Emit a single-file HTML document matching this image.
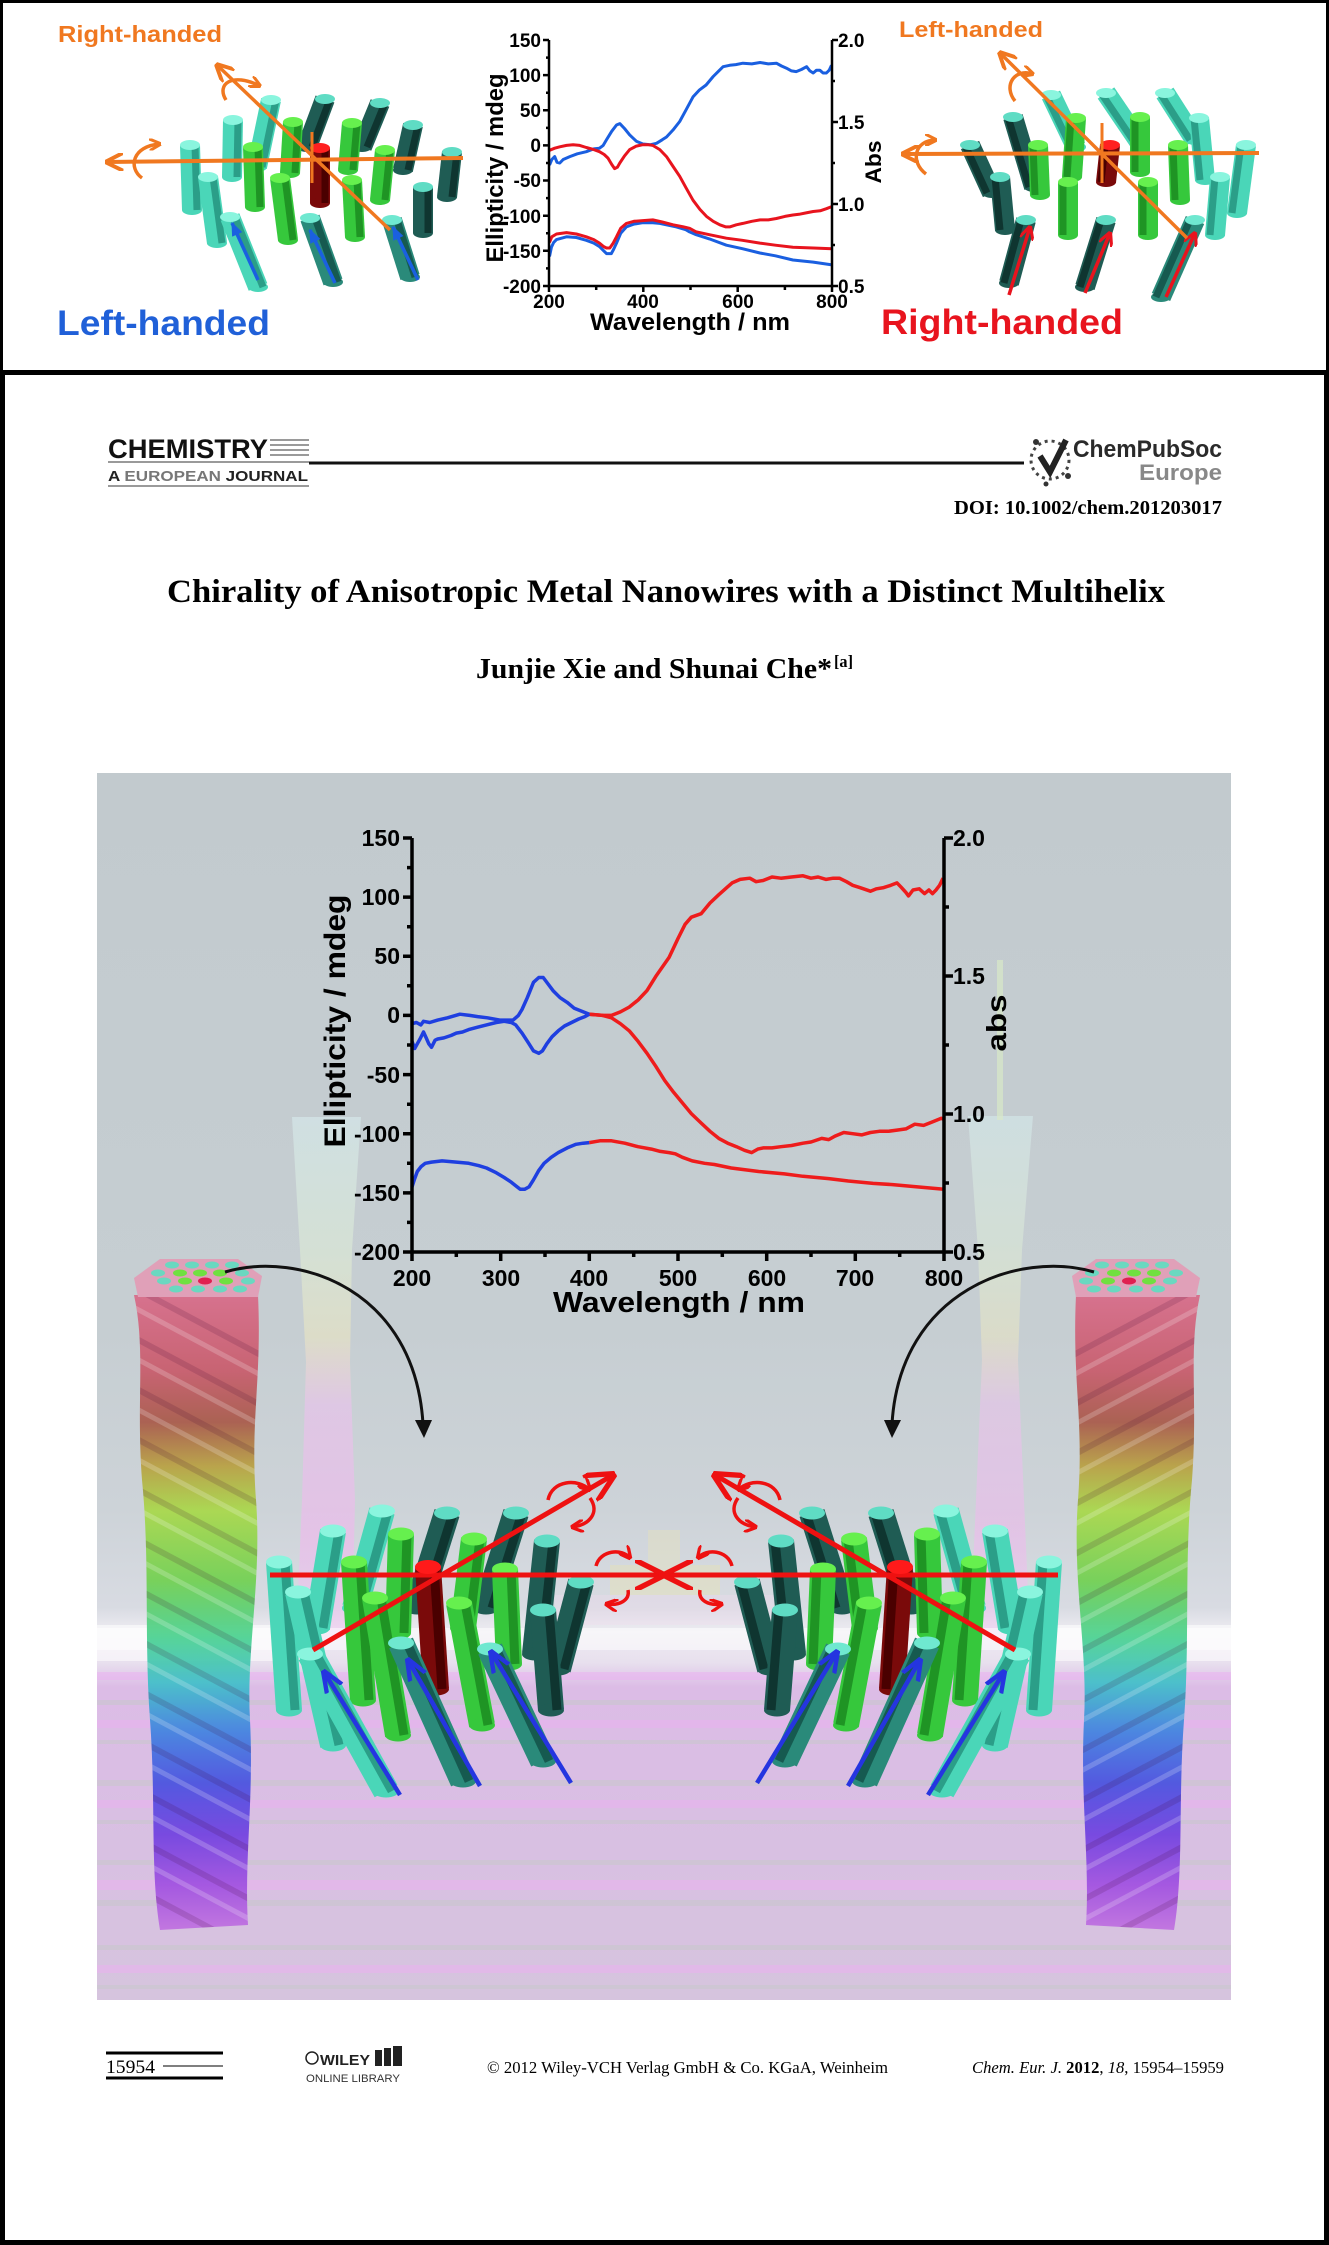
<!DOCTYPE html>
<html>
<head>
<meta charset="utf-8">
<style>
html,body{margin:0;padding:0;background:#fff}
svg{display:block}
.s{font-family:"Liberation Sans",Arial,sans-serif;font-weight:bold}
.r{font-family:"Liberation Serif","Times New Roman",serif}
.cy ellipse{stroke:none}
.cy line{stroke-linecap:butt}
.w20 line.bd{stroke-width:20}.w20 line.sh{stroke-width:7}
.w26 line.bd{stroke-width:26}.w26 line.sh{stroke-width:9}
.aq line.bd{stroke:#4ad6b8}.aq ellipse.bd{fill:#4ad6b8}.aq .sh{stroke:#2b9e88}.aq .tp{fill:#8af5de}
.gr line.bd{stroke:#36c83c}.gr ellipse.bd{fill:#36c83c}.gr .sh{stroke:#1f9424}.gr .tp{fill:#66f04e}
.dk line.bd{stroke:#1f5c54}.dk ellipse.bd{fill:#1f5c54}.dk .sh{stroke:#0f3530}.dk .tp{fill:#5fdcc4}
.rd line.bd{stroke:#7a0a0a}.rd ellipse.bd{fill:#7a0a0a}.rd .sh{stroke:#4a0000}.rd .tp{fill:#ff2020}
.md line.bd{stroke:#2a8a7a}.md ellipse.bd{fill:#2a8a7a}.md .sh{stroke:#165a50}.md .tp{fill:#6fe8d0}
</style>
</head>
<body>
<svg width="1329" height="2245" viewBox="0 0 1329 2245" xmlns="http://www.w3.org/2000/svg">
<defs>
<marker id="mo" viewBox="0 0 10 10" refX="9" refY="5" markerWidth="18" markerHeight="18" markerUnits="userSpaceOnUse" orient="auto"><path d="M0,0 L10,5 L0,10" fill="none" stroke="#f07820" stroke-width="2.2"/></marker>
<marker id="mos" viewBox="0 0 10 10" refX="9" refY="5" markerWidth="12" markerHeight="12" markerUnits="userSpaceOnUse" orient="auto"><path d="M0,0 L10,5 L0,10" fill="none" stroke="#f07820" stroke-width="2.5"/></marker>
<marker id="mr" viewBox="0 0 10 10" refX="9" refY="5" markerWidth="14" markerHeight="14" markerUnits="userSpaceOnUse" orient="auto"><path d="M0,0 L10,5 L0,10" fill="none" stroke="#e8141e" stroke-width="2.2"/></marker>
<marker id="mb" viewBox="0 0 10 10" refX="9" refY="5" markerWidth="14" markerHeight="14" markerUnits="userSpaceOnUse" orient="auto"><path d="M0,1 L10,5 L0,9 Z" fill="#1a60e0"/></marker>
<marker id="mR" viewBox="0 0 10 10" refX="9" refY="5" markerWidth="30" markerHeight="30" markerUnits="userSpaceOnUse" orient="auto"><path d="M0,0 L10,5 L0,10" fill="none" stroke="#ee1111" stroke-width="1.8"/></marker>
<marker id="mRs" viewBox="0 0 10 10" refX="9" refY="5" markerWidth="13" markerHeight="13" markerUnits="userSpaceOnUse" orient="auto"><path d="M0,0 L10,5 L0,10" fill="none" stroke="#ee1111" stroke-width="2.5"/></marker>
<marker id="mB" viewBox="0 0 10 10" refX="9" refY="5" markerWidth="22" markerHeight="22" markerUnits="userSpaceOnUse" orient="auto"><path d="M0,1 L10,5 L0,9" fill="none" stroke="#2535e0" stroke-width="2"/></marker>
<linearGradient id="bg" x1="0" y1="0" x2="0" y2="1">
<stop offset="0" stop-color="#c2cace"/>
<stop offset="0.45" stop-color="#c6ced2"/>
<stop offset="0.6" stop-color="#cdd3d8"/>
<stop offset="0.68" stop-color="#d8dbe2"/>
<stop offset="0.70" stop-color="#eeecf2"/>
<stop offset="0.725" stop-color="#e8e0ee"/>
<stop offset="0.745" stop-color="#dcbce6"/>
<stop offset="0.88" stop-color="#d8c0e2"/>
<stop offset="1" stop-color="#d6c4de"/>
</linearGradient>
<linearGradient id="nw" x1="0" y1="0" x2="0" y2="1">
<stop offset="0" stop-color="#d86a88"/>
<stop offset="0.12" stop-color="#c85a6a"/>
<stop offset="0.2" stop-color="#a85848"/>
<stop offset="0.27" stop-color="#b8a040"/>
<stop offset="0.34" stop-color="#a8d848"/>
<stop offset="0.45" stop-color="#70d050"/>
<stop offset="0.54" stop-color="#48d090"/>
<stop offset="0.61" stop-color="#40c0c8"/>
<stop offset="0.69" stop-color="#4080e0"/>
<stop offset="0.77" stop-color="#4850e0"/>
<stop offset="0.85" stop-color="#7040e0"/>
<stop offset="0.93" stop-color="#a050e0"/>
<stop offset="1" stop-color="#c070e0"/>
</linearGradient>
<linearGradient id="tw" x1="0" y1="0" x2="0" y2="1">
<stop offset="0" stop-color="#d8eef0"/>
<stop offset="0.25" stop-color="#e0f0d8"/>
<stop offset="0.42" stop-color="#eee8c0"/>
<stop offset="0.55" stop-color="#f0c0f0"/>
<stop offset="0.8" stop-color="#f4b4f0"/>
<stop offset="1" stop-color="#f0c8f0"/>
</linearGradient>
<clipPath id="cw"><path d="M134 1295 L258 1295 C262 1380 250 1420 256 1500 C262 1580 246 1650 250 1720 C254 1800 244 1860 248 1925 L160 1930 C150 1870 156 1800 150 1720 C144 1640 150 1560 142 1480 C136 1400 146 1350 134 1295 Z"/></clipPath>
</defs>

<!-- ============ TOP PANEL ============ -->
<rect x="1.5" y="1.5" width="1326" height="370" fill="#fff" stroke="#000" stroke-width="3"/>

<!-- Top-left illustration -->
<g class="w20">
<g class="cy dk"><line class="bd" x1="325" y1="99" x2="307" y2="147"/><ellipse class="bd" cx="307" cy="147" rx="10" ry="5"/><line class="sh" x1="330" y1="99" x2="312" y2="147"/><ellipse class="tp" cx="325" cy="99" rx="10" ry="5"/></g>
<g class="cy aq"><line class="bd" x1="271" y1="100" x2="257" y2="167"/><ellipse class="bd" cx="257" cy="167" rx="10" ry="5"/><line class="sh" x1="276" y1="100" x2="262" y2="167"/><ellipse class="tp" cx="271" cy="100" rx="10" ry="5"/></g>
<g class="cy dk"><line class="bd" x1="380" y1="103" x2="362" y2="147"/><ellipse class="bd" cx="362" cy="147" rx="10" ry="5"/><line class="sh" x1="385" y1="103" x2="367" y2="147"/><ellipse class="tp" cx="380" cy="103" rx="10" ry="5"/></g>
<g class="cy aq"><line class="bd" x1="233" y1="120" x2="232" y2="177"/><ellipse class="bd" cx="232" cy="177" rx="10" ry="5"/><line class="sh" x1="238" y1="120" x2="237" y2="177"/><ellipse class="tp" cx="233" cy="120" rx="10" ry="5"/></g>
<g class="cy gr"><line class="bd" x1="293" y1="122" x2="290" y2="173"/><ellipse class="bd" cx="290" cy="173" rx="10" ry="5"/><line class="sh" x1="298" y1="122" x2="295" y2="173"/><ellipse class="tp" cx="293" cy="122" rx="10" ry="5"/></g>
<g class="cy gr"><line class="bd" x1="352" y1="123" x2="348" y2="170"/><ellipse class="bd" cx="348" cy="170" rx="10" ry="5"/><line class="sh" x1="357" y1="123" x2="353" y2="170"/><ellipse class="tp" cx="352" cy="123" rx="10" ry="5"/></g>
<g class="cy dk"><line class="bd" x1="413" y1="125" x2="403" y2="170"/><ellipse class="bd" cx="403" cy="170" rx="10" ry="5"/><line class="sh" x1="418" y1="125" x2="408" y2="170"/><ellipse class="tp" cx="413" cy="125" rx="10" ry="5"/></g>
<g class="cy aq"><line class="bd" x1="190" y1="145" x2="192" y2="210"/><ellipse class="bd" cx="192" cy="210" rx="10" ry="5"/><line class="sh" x1="195" y1="145" x2="197" y2="210"/><ellipse class="tp" cx="190" cy="145" rx="10" ry="5"/></g>
<g class="cy gr"><line class="bd" x1="253" y1="147" x2="255" y2="207"/><ellipse class="bd" cx="255" cy="207" rx="10" ry="5"/><line class="sh" x1="258" y1="147" x2="260" y2="207"/><ellipse class="tp" cx="253" cy="147" rx="10" ry="5"/></g>
<g class="cy rd"><line class="bd" x1="320" y1="148" x2="320" y2="203"/><ellipse class="bd" cx="320" cy="203" rx="10" ry="5"/><line class="sh" x1="325" y1="148" x2="325" y2="203"/><ellipse class="tp" cx="320" cy="148" rx="10" ry="5"/></g>
<g class="cy gr"><line class="bd" x1="385" y1="150" x2="380" y2="200"/><ellipse class="bd" cx="380" cy="200" rx="10" ry="5"/><line class="sh" x1="390" y1="150" x2="385" y2="200"/><ellipse class="tp" cx="385" cy="150" rx="10" ry="5"/></g>
<g class="cy dk"><line class="bd" x1="452" y1="152" x2="447" y2="197"/><ellipse class="bd" cx="447" cy="197" rx="10" ry="5"/><line class="sh" x1="457" y1="152" x2="452" y2="197"/><ellipse class="tp" cx="452" cy="152" rx="10" ry="5"/></g>
<g class="cy aq"><line class="bd" x1="208" y1="177" x2="217" y2="243"/><ellipse class="bd" cx="217" cy="243" rx="10" ry="5"/><line class="sh" x1="213" y1="177" x2="222" y2="243"/><ellipse class="tp" cx="208" cy="177" rx="10" ry="5"/></g>
<g class="cy gr"><line class="bd" x1="280" y1="178" x2="288" y2="240"/><ellipse class="bd" cx="288" cy="240" rx="10" ry="5"/><line class="sh" x1="285" y1="178" x2="293" y2="240"/><ellipse class="tp" cx="280" cy="178" rx="10" ry="5"/></g>
<g class="cy gr"><line class="bd" x1="352" y1="180" x2="355" y2="237"/><ellipse class="bd" cx="355" cy="237" rx="10" ry="5"/><line class="sh" x1="357" y1="180" x2="360" y2="237"/><ellipse class="tp" cx="352" cy="180" rx="10" ry="5"/></g>
<g class="cy dk"><line class="bd" x1="423" y1="187" x2="423" y2="233"/><ellipse class="bd" cx="423" cy="233" rx="10" ry="5"/><line class="sh" x1="428" y1="187" x2="428" y2="233"/><ellipse class="tp" cx="423" cy="187" rx="10" ry="5"/></g>
<g class="cy aq"><line class="bd" x1="230" y1="217" x2="258" y2="287"/><ellipse class="bd" cx="258" cy="287" rx="10" ry="5"/><line class="sh" x1="235" y1="217" x2="263" y2="287"/><ellipse class="tp" cx="230" cy="217" rx="10" ry="5"/></g>
<g class="cy md"><line class="bd" x1="310" y1="218" x2="333" y2="282"/><ellipse class="bd" cx="333" cy="282" rx="10" ry="5"/><line class="sh" x1="315" y1="218" x2="338" y2="282"/><ellipse class="tp" cx="310" cy="218" rx="10" ry="5"/></g>
<g class="cy md"><line class="bd" x1="392" y1="220" x2="410" y2="277"/><ellipse class="bd" cx="410" cy="277" rx="10" ry="5"/><line class="sh" x1="397" y1="220" x2="415" y2="277"/><ellipse class="tp" cx="392" cy="220" rx="10" ry="5"/></g>
</g>
<g stroke="#1a60e0" stroke-width="3.5" marker-end="url(#mb)">
<line x1="258" y1="280" x2="232" y2="223"/>
<line x1="335" y1="283" x2="310" y2="230"/>
<line x1="418" y1="280" x2="393" y2="227"/>
</g>
<g stroke="#f07820" fill="none">
<line x1="463" y1="158" x2="107" y2="162" stroke-width="4" marker-end="url(#mo)"/>
<line x1="390" y1="230" x2="217" y2="65" stroke-width="3.5" marker-end="url(#mo)"/>
<line x1="312" y1="132" x2="312" y2="183" stroke-width="3"/>
<path d="M142 178 C128 168 132 146 160 144" stroke-width="3.5" marker-end="url(#mos)"/>
<path d="M226 100 C216 84 232 72 260 86" stroke-width="3.5" marker-end="url(#mos)"/>
</g>
<text class="s" x="58" y="42" font-size="23" fill="#f07820" textLength="164" lengthAdjust="spacingAndGlyphs">Right-handed</text>
<text class="s" x="57" y="335" font-size="35" fill="#2060d8" textLength="213" lengthAdjust="spacingAndGlyphs">Left-handed</text>

<!-- Top chart -->
<g fill="none" stroke-linejoin="round">
<path stroke="#1a5fe0" stroke-width="3" d="M549.5,256.5 L551.4,247.3 L553.7,242.4 L556.5,239.6 L566.5,236.8 L576.4,237.5 L586.3,240.3 L593.8,243.1 L599.5,246.6 L603.7,250.8 L606.5,253.6 L611.3,253.6 L613.6,249.4 L616.5,243.1 L620.7,233.3 L626.4,226.9 L633.9,224.1 L642.9,222.7 L652.8,222.7 L659.8,223.4 L676.4,226.9 L685.8,229.7 L689.6,231.9 L696.2,234.7 L709.4,238.9 L726.4,245.2 L742.4,248.7 L759.9,253 L775.4,255.8 L792.9,260 L813.2,262.1 L832,264.9"/>
<path stroke="#e8141e" stroke-width="3" d="M549.5,242.4 L551.8,236.8 L556.5,234 L566.5,232.6 L576.4,234 L586.3,236.8 L593.8,239.6 L599.5,243.1 L603.7,246.6 L606.5,248 L609.8,248 L613.2,243.1 L616.5,236.8 L620.7,228.3 L626.4,223.4 L633.9,221.3 L642.9,220.6 L652.8,219.9 L662.2,222 L673.1,224.8 L683.4,226.9 L689.6,228.3 L696.2,231.9 L709.4,234.7 L726.4,238.2 L742.4,240.3 L759.9,243.1 L775.4,245.2 L792.9,247.3 L813.2,248 L832,248.7"/>
<path stroke="#1a5fe0" stroke-width="3" d="M549.5,165.1 L551.8,159.5 L554.7,156.6 L557,162.3 L559.8,163 L563.2,159.5 L569.8,156.6 L577.3,153.8 L586.3,151.7 L593.8,148.9 L599.5,148.2 L603.2,145.4 L606.5,139.8 L611.7,131.3 L616.5,125 L619.8,123.6 L624.5,128.5 L629.7,134.9 L636.3,141.2 L642.9,144 L650.4,144.7 L656.5,143.3 L662.2,139.8 L666.5,137 L673.1,129.9 L679.7,121.5 L685.8,110.3 L693,96.9 L699.5,89.9 L706.1,85 L713.2,76.5 L718.8,70.9 L723.1,66.7 L729.7,65.3 L735.8,64.6 L742.9,63.2 L751.8,63.9 L760.1,62.5 L768.3,63.9 L776.4,63.2 L781.5,66 L786.3,68.1 L791.5,70.9 L796.2,71.6 L801.4,69.5 L806.6,66.7 L809.9,70.9 L813.2,73 L816.5,70.2 L819.8,70.2 L823.1,73 L826.4,73 L829.2,70.2 L831.5,65.3"/>
<path stroke="#e8141e" stroke-width="3" d="M549.5,150.3 L554.7,148.2 L559.8,146.8 L566.5,145.4 L573.1,144.7 L579.7,145.4 L586.3,147.5 L593.8,149.6 L599.5,151.7 L604.2,154.5 L608,158.1 L611.7,164.4 L614.6,168.6 L617.4,167.2 L619.8,163 L624.5,155.9 L629.7,149.6 L636.3,146.1 L642.9,144.7 L648.1,144.7 L652.8,145.4 L659.8,149.6 L666.5,156.6 L673.1,166.5 L679.7,176.3 L686.3,188.3 L693,200.2 L699.9,209.4 L706.5,216.4 L713.2,221.3 L719.8,224.8 L725.9,226.9 L729.7,226.9 L736.3,224.8 L742.9,223.4 L751.8,221.3 L760.1,219.9 L768.3,219.9 L776.4,218.5 L784.9,216.4 L792.9,215 L799,214.3 L806.1,212.9 L813.2,211.5 L820.2,210.8 L826.4,208.7 L832,206.5"/>
</g>
<g stroke="#000" fill="none" stroke-width="2.5">
<path d="M549,40 V286 H832 V40"/>
<path d="M543,40H549M543,75.1H549M543,110.3H549M543,145.4H549M543,180.5H549M543,215.7H549M543,250.8H549M543,286H549"/>
<path d="M546,57.6H549M546,92.7H549M546,127.9H549M546,163H549M546,198.1H549M546,233.3H549M546,268.4H549"/>
<path d="M549,286V292M643.3,286V292M737.7,286V292M832,286V292M596.2,286V290M690.5,286V290M784.9,286V290"/>
<path d="M832,40H838M832,122H838M832,204H838M832,286H838M832,81H835M832,163H835M832,245H835"/>
</g>
<g class="s" font-size="19" text-anchor="end">
<text x="541" y="47">150</text><text x="541" y="82">100</text><text x="541" y="117">50</text><text x="541" y="152">0</text>
<text x="541" y="187">-50</text><text x="541" y="223">-100</text><text x="541" y="258">-150</text><text x="541" y="293">-200</text>
</g>
<g class="s" font-size="19" text-anchor="middle">
<text x="549" y="308">200</text><text x="643" y="308">400</text><text x="738" y="308">600</text><text x="832" y="308">800</text>
</g>
<g class="s" font-size="19">
<text x="838" y="47">2.0</text><text x="838" y="129">1.5</text><text x="838" y="211">1.0</text><text x="838" y="293">0.5</text>
</g>
<text class="s" x="690" y="330" font-size="24" text-anchor="middle" textLength="200" lengthAdjust="spacingAndGlyphs">Wavelength / nm</text>
<text class="s" transform="translate(503,168) rotate(-90)" font-size="24" text-anchor="middle" textLength="189" lengthAdjust="spacingAndGlyphs">Ellipticity / mdeg</text>
<text class="s" transform="translate(881,162) rotate(-90)" font-size="22" text-anchor="middle" textLength="43" lengthAdjust="spacingAndGlyphs">Abs</text>

<!-- Top-right illustration -->
<g class="w20">
<g class="cy aq"><line class="bd" x1="1106" y1="93" x2="1140" y2="143"/><ellipse class="bd" cx="1140" cy="143" rx="10" ry="5"/><line class="sh" x1="1101" y1="93" x2="1135" y2="143"/><ellipse class="tp" cx="1106" cy="93" rx="10" ry="5"/></g>
<g class="cy aq"><line class="bd" x1="1165" y1="93" x2="1195" y2="140"/><ellipse class="bd" cx="1195" cy="140" rx="10" ry="5"/><line class="sh" x1="1160" y1="93" x2="1190" y2="140"/><ellipse class="tp" cx="1165" cy="93" rx="10" ry="5"/></g>
<g class="cy aq"><line class="bd" x1="1051" y1="95" x2="1076" y2="147"/><ellipse class="bd" cx="1076" cy="147" rx="10" ry="5"/><line class="sh" x1="1046" y1="95" x2="1071" y2="147"/><ellipse class="tp" cx="1051" cy="95" rx="10" ry="5"/></g>
<g class="cy dk"><line class="bd" x1="1013" y1="117" x2="1034" y2="187"/><ellipse class="bd" cx="1034" cy="187" rx="10" ry="5"/><line class="sh" x1="1008" y1="117" x2="1029" y2="187"/><ellipse class="tp" cx="1013" cy="117" rx="10" ry="5"/></g>
<g class="cy gr"><line class="bd" x1="1076" y1="118" x2="1072" y2="177"/><ellipse class="bd" cx="1072" cy="177" rx="10" ry="5"/><line class="sh" x1="1071" y1="118" x2="1067" y2="177"/><ellipse class="tp" cx="1076" cy="118" rx="10" ry="5"/></g>
<g class="cy gr"><line class="bd" x1="1140" y1="117" x2="1140" y2="172"/><ellipse class="bd" cx="1140" cy="172" rx="10" ry="5"/><line class="sh" x1="1135" y1="117" x2="1135" y2="172"/><ellipse class="tp" cx="1140" cy="117" rx="10" ry="5"/></g>
<g class="cy aq"><line class="bd" x1="1199" y1="118" x2="1205" y2="180"/><ellipse class="bd" cx="1205" cy="180" rx="10" ry="5"/><line class="sh" x1="1194" y1="118" x2="1200" y2="180"/><ellipse class="tp" cx="1199" cy="118" rx="10" ry="5"/></g>
<g class="cy dk"><line class="bd" x1="970" y1="145" x2="992" y2="193"/><ellipse class="bd" cx="992" cy="193" rx="10" ry="5"/><line class="sh" x1="965" y1="145" x2="987" y2="193"/><ellipse class="tp" cx="970" cy="145" rx="10" ry="5"/></g>
<g class="cy gr"><line class="bd" x1="1038" y1="145" x2="1040" y2="195"/><ellipse class="bd" cx="1040" cy="195" rx="10" ry="5"/><line class="sh" x1="1033" y1="145" x2="1035" y2="195"/><ellipse class="tp" cx="1038" cy="145" rx="10" ry="5"/></g>
<g class="cy rd"><line class="bd" x1="1110" y1="145" x2="1106" y2="182"/><ellipse class="bd" cx="1106" cy="182" rx="10" ry="5"/><line class="sh" x1="1105" y1="145" x2="1101" y2="182"/><ellipse class="tp" cx="1110" cy="145" rx="10" ry="5"/></g>
<g class="cy gr"><line class="bd" x1="1178" y1="145" x2="1180" y2="200"/><ellipse class="bd" cx="1180" cy="200" rx="10" ry="5"/><line class="sh" x1="1173" y1="145" x2="1175" y2="200"/><ellipse class="tp" cx="1178" cy="145" rx="10" ry="5"/></g>
<g class="cy aq"><line class="bd" x1="1246" y1="145" x2="1237" y2="213"/><ellipse class="bd" cx="1237" cy="213" rx="10" ry="5"/><line class="sh" x1="1241" y1="145" x2="1232" y2="213"/><ellipse class="tp" cx="1246" cy="145" rx="10" ry="5"/></g>
<g class="cy dk"><line class="bd" x1="1000" y1="177" x2="1005" y2="230"/><ellipse class="bd" cx="1005" cy="230" rx="10" ry="5"/><line class="sh" x1="995" y1="177" x2="1000" y2="230"/><ellipse class="tp" cx="1000" cy="177" rx="10" ry="5"/></g>
<g class="cy aq"><line class="bd" x1="1220" y1="177" x2="1215" y2="235"/><ellipse class="bd" cx="1215" cy="235" rx="10" ry="5"/><line class="sh" x1="1215" y1="177" x2="1210" y2="235"/><ellipse class="tp" cx="1220" cy="177" rx="10" ry="5"/></g>
<g class="cy gr"><line class="bd" x1="1068" y1="182" x2="1068" y2="235"/><ellipse class="bd" cx="1068" cy="235" rx="10" ry="5"/><line class="sh" x1="1063" y1="182" x2="1063" y2="235"/><ellipse class="tp" cx="1068" cy="182" rx="10" ry="5"/></g>
<g class="cy gr"><line class="bd" x1="1148" y1="182" x2="1148" y2="235"/><ellipse class="bd" cx="1148" cy="235" rx="10" ry="5"/><line class="sh" x1="1143" y1="182" x2="1143" y2="235"/><ellipse class="tp" cx="1148" cy="182" rx="10" ry="5"/></g>
<g class="cy dk"><line class="bd" x1="1026" y1="220" x2="1009" y2="283"/><ellipse class="bd" cx="1009" cy="283" rx="10" ry="5"/><line class="sh" x1="1021" y1="220" x2="1004" y2="283"/><ellipse class="tp" cx="1026" cy="220" rx="10" ry="5"/></g>
<g class="cy dk"><line class="bd" x1="1106" y1="220" x2="1085" y2="287"/><ellipse class="bd" cx="1085" cy="287" rx="10" ry="5"/><line class="sh" x1="1101" y1="220" x2="1080" y2="287"/><ellipse class="tp" cx="1106" cy="220" rx="10" ry="5"/></g>
<g class="cy md"><line class="bd" x1="1195" y1="220" x2="1161" y2="297"/><ellipse class="bd" cx="1161" cy="297" rx="10" ry="5"/><line class="sh" x1="1190" y1="220" x2="1156" y2="297"/><ellipse class="tp" cx="1195" cy="220" rx="10" ry="5"/></g>
</g>
<g stroke="#e8141e" stroke-width="3.5" marker-end="url(#mr)">
<line x1="1009" y1="295" x2="1030" y2="227"/>
<line x1="1085" y1="293" x2="1110" y2="233"/>
<line x1="1166" y1="297" x2="1195" y2="233"/>
</g>
<g stroke="#f07820" fill="none">
<line x1="1259" y1="153" x2="903" y2="154" stroke-width="4" marker-end="url(#mo)"/>
<line x1="1187" y1="238" x2="1000" y2="53" stroke-width="3.5" marker-end="url(#mo)"/>
<line x1="1102" y1="123" x2="1102" y2="183" stroke-width="3"/>
<path d="M926 174 C910 162 914 140 936 140" stroke-width="3.5" marker-end="url(#mos)"/>
<path d="M1015 101 C1003 86 1014 68 1033 74" stroke-width="3.5" marker-end="url(#mos)"/>
</g>
<text class="s" x="899" y="37" font-size="22" fill="#f07820" textLength="144" lengthAdjust="spacingAndGlyphs">Left-handed</text>
<text class="s" x="881" y="334" font-size="35" fill="#e8141e" textLength="242" lengthAdjust="spacingAndGlyphs">Right-handed</text>

<!-- ============ LOWER PAGE ============ -->
<rect x="2.5" y="372.5" width="1324" height="1870" fill="#fff" stroke="#000" stroke-width="5"/>

<!-- Header -->
<text class="s" x="108" y="458" font-size="27" fill="#111" textLength="160" lengthAdjust="spacingAndGlyphs">CHEMISTRY</text>
<g stroke="#9a9a9a" stroke-width="2">
<line x1="270" y1="440" x2="309" y2="440"/><line x1="270" y1="445" x2="309" y2="445"/><line x1="270" y1="450" x2="309" y2="450"/><line x1="270" y1="455" x2="309" y2="455"/>
<line x1="108" y1="462" x2="309" y2="462"/><line x1="108" y1="486" x2="309" y2="486"/>
</g>
<text class="s" x="108" y="481" font-size="15" fill="#222" textLength="200" lengthAdjust="spacingAndGlyphs">A <tspan fill="#777">EUROPEAN</tspan> JOURNAL</text>
<line x1="309" y1="463" x2="1024" y2="463" stroke="#111" stroke-width="3"/>
<g>
<circle cx="1050" cy="460" r="19" fill="none" stroke="#444" stroke-width="3" stroke-dasharray="3 4"/>
<path d="M1040 456 L1050 472 L1066 440" fill="none" stroke="#222" stroke-width="6"/>
<circle cx="1036" cy="442" r="3" fill="#333"/><circle cx="1068" cy="476" r="3" fill="#333"/><circle cx="1046" cy="484" r="2.5" fill="#333"/>
</g>
<text class="s" x="1073" y="457" font-size="24" fill="#2a2a2a" textLength="149" lengthAdjust="spacingAndGlyphs">ChemPubSoc</text>
<text class="s" x="1139" y="480" font-size="22" fill="#888" textLength="83" lengthAdjust="spacingAndGlyphs">Europe</text>
<text class="r" x="954" y="514" font-size="20" font-weight="bold" textLength="268" lengthAdjust="spacingAndGlyphs">DOI: 10.1002/chem.201203017</text>
<text class="r" x="167" y="602" font-size="33" font-weight="bold" textLength="998" lengthAdjust="spacingAndGlyphs">Chirality of Anisotropic Metal Nanowires with a Distinct Multihelix</text>
<text class="r" x="476" y="678" font-size="28" font-weight="bold" textLength="356" lengthAdjust="spacingAndGlyphs">Junjie Xie and Shunai Che*</text>
<text class="r" x="834" y="667" font-size="17" font-weight="bold" textLength="19" lengthAdjust="spacingAndGlyphs">[a]</text>

<!-- ============ BIG FIGURE ============ -->
<rect x="97" y="773" width="1134" height="1227" fill="url(#bg)"/>
<!-- towers & city -->
<path d="M292 1117 L361 1117 L352 1250 L350 1362 L355 1500 L352 1640 L296 1640 L302 1500 L306 1362 L300 1250 Z" fill="url(#tw)" opacity="0.55"/>
<path d="M968 1116 L1033 1116 L1022 1250 L1018 1360 L1030 1640 L970 1640 L982 1360 L978 1250 Z" fill="url(#tw)" opacity="0.5"/>
<rect x="997" y="960" width="6" height="160" fill="#d8e8c8" opacity="0.7"/>
<g opacity="0.3">
<rect x="610" y="1565" width="110" height="55" fill="#f0e8a0"/>
<rect x="648" y="1530" width="32" height="40" fill="#f0e8b0"/>
<rect x="555" y="1595" width="220" height="30" fill="#f4dcf0"/>
</g>
<rect x="97" y="1628" width="1134" height="22" fill="#ffffff" opacity="0.5"/>
<rect x="97" y="1625" width="200" height="36" fill="#ffffff" opacity="0.55"/>
<rect x="1030" y="1625" width="201" height="36" fill="#ffffff" opacity="0.55"/>
<g fill="#c8c8cc" opacity="0.55">
<rect x="97" y="1700" width="1134" height="5"/>
<rect x="97" y="1740" width="1134" height="4"/>
<rect x="97" y="1780" width="1134" height="6"/>
<rect x="97" y="1820" width="1134" height="4"/>
<rect x="97" y="1860" width="1134" height="5"/>
<rect x="97" y="1900" width="1134" height="6"/>
<rect x="97" y="1945" width="1134" height="5"/>
<rect x="97" y="1985" width="1134" height="4"/>
</g>
<g fill="#ecb0f2" opacity="0.5">
<rect x="97" y="1672" width="1134" height="8"/>
<rect x="97" y="1720" width="1134" height="8"/>
<rect x="97" y="1800" width="1134" height="8"/>
<rect x="97" y="1880" width="1134" height="10"/>
<rect x="97" y="1965" width="1134" height="8"/>
</g>

<!-- Main chart -->
<g fill="none" stroke-linejoin="round" stroke-width="3.5">
<path stroke="#1f3fe0" d="M412,1186.9 L414.7,1178.6 L417.3,1171.5 L420.9,1166.8 L425.3,1163.3 L431.5,1162.1 L442.1,1160.9 L456.3,1162.1 L468.7,1163.3 L478.5,1165.6 L486.5,1168 L496.2,1172.7 L504.2,1177.5 L511.3,1182.2 L515.7,1185.7 L520.2,1189.3 L524.6,1189.3 L529,1186.9 L533.5,1179.8 L538.8,1170.4 L544.1,1163.3 L551.2,1157.3 L558.3,1152.6 L567.2,1147.9 L576,1144.3 L583.1,1143.2 L589.3,1142.6"/>
<path stroke="#ee1c1c" d="M589.3,1142.6 L600,1140.8 L611.5,1140.8 L624.8,1143.2 L638.1,1146.7 L651.4,1149.1 L660.3,1151.4 L669.1,1152.6 L675.3,1153.8 L682.4,1157.3 L692.2,1160.9 L704.6,1163.3 L714.4,1164.5 L731.2,1168 L758.7,1171.5 L784.4,1173.9 L803,1176.3 L828.7,1178.6 L848.3,1181 L873.1,1183.4 L892.6,1184.6 L917.4,1186.9 L944,1189.3"/>
<path stroke="#ee1c1c" d="M589.3,1014.2 L602.6,1015.4 L611.5,1015.4 L620.4,1011.9 L629.2,1007.1 L638.1,1000 L647,990.6 L655.8,976.4 L669.1,957.4 L678,938.5 L685.1,924.3 L691.3,917.2 L701.1,913.7 L710,903 L718.8,894.7 L726.8,887.6 L732.1,882.9 L740.1,879.4 L749.8,878.2 L756.1,881.7 L763.1,880.5 L772,877 L780.9,878.2 L791.5,877 L803,875.8 L811,878.2 L818.1,877 L826.1,879.4 L833.2,878.2 L839.4,878.2 L846.5,881.7 L852.7,885.3 L859.8,887.6 L870.4,891.2 L876.6,888.8 L883.7,887.6 L890.8,885.3 L897,882.9 L901.5,887.6 L905.9,892.4 L908.5,895.9 L913,890 L919.2,888.8 L924.5,893.6 L928.9,890 L932.5,893.6 L936,890 L939.6,885.3 L943.1,878.2"/>
<path stroke="#ee1c1c" d="M589.3,1014.2 L602.6,1015.4 L611.5,1017.8 L620.4,1023.7 L629.2,1030.8 L638.1,1041.4 L647,1053.3 L655.8,1066.3 L664.7,1080.5 L673.6,1092.3 L682.4,1102.9 L691.3,1113.6 L701.1,1123 L710,1131.3 L718.8,1138.4 L727.7,1143.2 L736.5,1146.7 L744.5,1150.3 L751.6,1152.6 L757.8,1149.1 L763.1,1147.9 L772,1147.9 L780.9,1146.7 L791.5,1145.5 L803,1143.2 L811,1142 L821.7,1138.4 L828.7,1139.6 L835,1136.1 L843.8,1132.5 L852.7,1133.7 L861.6,1134.9 L870.4,1132.5 L879.3,1131.3 L888.2,1131.3 L897,1130.1 L905.9,1128.9 L914.8,1124.2 L923.6,1125.4 L932.5,1121.9 L941.4,1118.3 L944,1119.5"/>
<path stroke="#1f3fe0" d="M412,1023.7 L416.4,1022.5 L420.9,1024.9 L423.5,1021.3 L429.7,1022.5 L437.7,1020.1 L447.5,1017.8 L459.9,1014.2 L469.6,1015.4 L477.6,1016.6 L487.4,1017.8 L499.8,1020.1 L513.1,1020.1 L518.4,1015.4 L522,1009.5 L527.3,997.7 L533.5,982.3 L538.8,977.5 L543.2,977.5 L547.7,983.5 L553,990.6 L560.1,997.7 L567.2,1002.4 L574.3,1008.3 L580.5,1010.7 L589.3,1014.2"/>
<path stroke="#1f3fe0" d="M412,1041.4 L414.7,1048.5 L417.3,1043.8 L420,1039 L423.5,1032 L426.2,1037.9 L428.8,1043.8 L431.5,1047.3 L435.1,1040.2 L437.7,1039 L443.9,1037.9 L451,1035.5 L456.3,1033.1 L462.5,1032 L468.7,1029.6 L477.6,1027.2 L486.5,1024.9 L496.2,1022.5 L504.2,1021.3 L511.3,1022.5 L515.7,1024.9 L522,1033.1 L528.2,1042.6 L533.5,1050.9 L538.8,1053.3 L542.4,1050.9 L546.8,1043.8 L552.1,1036.7 L558.3,1030.8 L564.5,1026 L571.6,1022.5 L578.7,1019 L584.9,1016.6 L589.3,1014.2"/>
</g>
<g stroke="#000" fill="none" stroke-width="3.5">
<path d="M412,838 V1252 H944 V838"/>
<path d="M403,838H412M403,897.1H412M403,956.3H412M403,1015.4H412M403,1074.6H412M403,1133.7H412M403,1192.9H412M403,1252H412"/>
<path d="M407,867.6H412M407,926.7H412M407,985.8H412M407,1045H412M407,1104.2H412M407,1163.3H412M407,1222.4H412"/>
<path d="M412,1252V1261M500.7,1252V1261M589.3,1252V1261M678,1252V1261M766.7,1252V1261M855.3,1252V1261M944,1252V1261"/>
<path d="M456.3,1252V1257M545,1252V1257M633.7,1252V1257M722.3,1252V1257M811,1252V1257M899.7,1252V1257"/>
<path d="M944,838H953M944,976H953M944,1114H953M944,1252H953M944,907H949M944,1045H949M944,1183H949"/>
</g>
<g class="s" font-size="23" text-anchor="end">
<text x="400" y="846">150</text><text x="400" y="905">100</text><text x="400" y="964">50</text><text x="400" y="1023">0</text>
<text x="400" y="1083">-50</text><text x="400" y="1142">-100</text><text x="400" y="1201">-150</text><text x="400" y="1260">-200</text>
</g>
<g class="s" font-size="23" text-anchor="middle">
<text x="412" y="1286">200</text><text x="501" y="1286">300</text><text x="589" y="1286">400</text><text x="678" y="1286">500</text>
<text x="767" y="1286">600</text><text x="855" y="1286">700</text><text x="944" y="1286">800</text>
</g>
<g class="s" font-size="23">
<text x="953" y="846">2.0</text><text x="953" y="984">1.5</text><text x="953" y="1122">1.0</text><text x="953" y="1260">0.5</text>
</g>
<text class="s" x="679" y="1312" font-size="29" text-anchor="middle" textLength="252" lengthAdjust="spacingAndGlyphs">Wavelength / nm</text>
<text class="s" transform="translate(345,1021) rotate(-90)" font-size="30" text-anchor="middle" textLength="253" lengthAdjust="spacingAndGlyphs">Ellipticity / mdeg</text>
<text class="s" transform="translate(1006,1023) rotate(-90)" font-size="28" text-anchor="middle" textLength="57" lengthAdjust="spacingAndGlyphs">abs</text>

<!-- Nanowire left -->
<g id="nwL">
<path d="M134 1295 L258 1295 C262 1380 250 1420 256 1500 C262 1580 246 1650 250 1720 C254 1800 244 1860 248 1925 L160 1930 C150 1870 156 1800 150 1720 C144 1640 150 1560 142 1480 C136 1400 146 1350 134 1295 Z" fill="url(#nw)" opacity="0.92"/>
<g clip-path="url(#cw)">
<g stroke="#3a0030" stroke-opacity="0.15" stroke-width="6">
<line x1="120" y1="1280" x2="270" y2="1360"/><line x1="120" y1="1330" x2="270" y2="1410"/><line x1="120" y1="1380" x2="270" y2="1460"/><line x1="120" y1="1430" x2="270" y2="1510"/><line x1="120" y1="1480" x2="270" y2="1560"/><line x1="120" y1="1530" x2="270" y2="1610"/><line x1="120" y1="1580" x2="270" y2="1660"/><line x1="120" y1="1630" x2="270" y2="1710"/><line x1="120" y1="1680" x2="270" y2="1760"/><line x1="120" y1="1730" x2="270" y2="1810"/><line x1="120" y1="1780" x2="270" y2="1860"/><line x1="120" y1="1830" x2="270" y2="1910"/><line x1="120" y1="1880" x2="270" y2="1960"/>
</g>
<g stroke="#ffffff" stroke-opacity="0.2" stroke-width="5">
<line x1="120" y1="1300" x2="270" y2="1380"/><line x1="120" y1="1350" x2="270" y2="1430"/><line x1="120" y1="1400" x2="270" y2="1480"/><line x1="120" y1="1450" x2="270" y2="1530"/><line x1="120" y1="1500" x2="270" y2="1580"/><line x1="120" y1="1550" x2="270" y2="1630"/><line x1="120" y1="1600" x2="270" y2="1680"/><line x1="120" y1="1650" x2="270" y2="1730"/><line x1="120" y1="1700" x2="270" y2="1780"/><line x1="120" y1="1750" x2="270" y2="1830"/><line x1="120" y1="1800" x2="270" y2="1880"/><line x1="120" y1="1850" x2="270" y2="1930"/>
</g>
</g>
<polygon points="134,1278 160,1259 238,1259 262,1276 258,1297 138,1297" fill="#e0a0b8"/>
<g fill="#6ad8c0">
<ellipse cx="172" cy="1265" rx="7" ry="3.5"/><ellipse cx="192" cy="1265" rx="7" ry="3.5"/><ellipse cx="212" cy="1265" rx="7" ry="3.5"/><ellipse cx="232" cy="1265" rx="7" ry="3.5"/>
<ellipse cx="158" cy="1273" rx="7" ry="3.5"/><ellipse cx="242" cy="1273" rx="7" ry="3.5"/>
<ellipse cx="164" cy="1281" rx="7" ry="3.5"/><ellipse cx="248" cy="1281" rx="7" ry="3.5"/>
<ellipse cx="176" cy="1289" rx="7" ry="3.5"/><ellipse cx="198" cy="1289" rx="7" ry="3.5"/><ellipse cx="220" cy="1289" rx="7" ry="3.5"/><ellipse cx="240" cy="1289" rx="7" ry="3.5"/>
</g>
<g fill="#70e040">
<ellipse cx="180" cy="1273" rx="7" ry="3.5"/><ellipse cx="200" cy="1273" rx="7" ry="3.5"/><ellipse cx="220" cy="1273" rx="7" ry="3.5"/>
<ellipse cx="185" cy="1281" rx="7" ry="3.5"/><ellipse cx="226" cy="1281" rx="7" ry="3.5"/>
</g>
<ellipse cx="205" cy="1281" rx="7" ry="3.5" fill="#e02050"/>
</g>
<use href="#nwL" transform="matrix(-1 0 0 1 1334 0)"/>

<!-- curved black arrows -->
<path d="M225 1272 C300 1250 415 1290 423 1424" fill="none" stroke="#111" stroke-width="3"/>
<polygon points="415,1420 432,1420 424,1438" fill="#111"/>
<path d="M1094 1272 C1020 1250 900 1290 892 1424" fill="none" stroke="#111" stroke-width="3"/>
<polygon points="884,1420 901,1420 892,1438" fill="#111"/>

<!-- Left cluster -->
<g id="cl">
<g class="w26">
<g class="cy aq"><line class="bd" x1="382" y1="1511" x2="355" y2="1608"/><ellipse class="bd" cx="355" cy="1608" rx="13" ry="6.5"/><line class="sh" x1="388" y1="1511" x2="361" y2="1608"/><ellipse class="tp" cx="382" cy="1511" rx="13" ry="6.5"/></g>
<g class="cy dk"><line class="bd" x1="447" y1="1513" x2="417" y2="1608"/><ellipse class="bd" cx="417" cy="1608" rx="13" ry="6.5"/><line class="sh" x1="453" y1="1513" x2="423" y2="1608"/><ellipse class="tp" cx="447" cy="1513" rx="13" ry="6.5"/></g>
<g class="cy dk"><line class="bd" x1="516" y1="1513" x2="486" y2="1608"/><ellipse class="bd" cx="486" cy="1608" rx="13" ry="6.5"/><line class="sh" x1="522" y1="1513" x2="492" y2="1608"/><ellipse class="tp" cx="516" cy="1513" rx="13" ry="6.5"/></g>
<g class="cy aq"><line class="bd" x1="333" y1="1531" x2="317" y2="1628"/><ellipse class="bd" cx="317" cy="1628" rx="13" ry="6.5"/><line class="sh" x1="339" y1="1531" x2="323" y2="1628"/><ellipse class="tp" cx="333" cy="1531" rx="13" ry="6.5"/></g>
<g class="cy gr"><line class="bd" x1="401" y1="1534" x2="398" y2="1633"/><ellipse class="bd" cx="398" cy="1633" rx="13" ry="6.5"/><line class="sh" x1="407" y1="1534" x2="404" y2="1633"/><ellipse class="tp" cx="401" cy="1534" rx="13" ry="6.5"/></g>
<g class="cy gr"><line class="bd" x1="474" y1="1539" x2="463" y2="1628"/><ellipse class="bd" cx="463" cy="1628" rx="13" ry="6.5"/><line class="sh" x1="480" y1="1539" x2="469" y2="1628"/><ellipse class="tp" cx="474" cy="1539" rx="13" ry="6.5"/></g>
<g class="cy dk"><line class="bd" x1="547" y1="1541" x2="535" y2="1654"/><ellipse class="bd" cx="535" cy="1654" rx="13" ry="6.5"/><line class="sh" x1="553" y1="1541" x2="541" y2="1654"/><ellipse class="tp" cx="547" cy="1541" rx="13" ry="6.5"/></g>
<g class="cy aq"><line class="bd" x1="279" y1="1562" x2="289" y2="1710"/><ellipse class="bd" cx="289" cy="1710" rx="13" ry="6.5"/><line class="sh" x1="285" y1="1562" x2="295" y2="1710"/><ellipse class="tp" cx="279" cy="1562" rx="13" ry="6.5"/></g>
<g class="cy gr"><line class="bd" x1="354" y1="1562" x2="363" y2="1700"/><ellipse class="bd" cx="363" cy="1700" rx="13" ry="6.5"/><line class="sh" x1="360" y1="1562" x2="369" y2="1700"/><ellipse class="tp" cx="354" cy="1562" rx="13" ry="6.5"/></g>
<g class="cy rd"><line class="bd" x1="428" y1="1567" x2="436" y2="1689"/><ellipse class="bd" cx="436" cy="1689" rx="13" ry="6.5"/><line class="sh" x1="434" y1="1567" x2="442" y2="1689"/><ellipse class="tp" cx="428" cy="1567" rx="13" ry="6.5"/></g>
<g class="cy gr"><line class="bd" x1="505" y1="1569" x2="509" y2="1664"/><ellipse class="bd" cx="509" cy="1664" rx="13" ry="6.5"/><line class="sh" x1="511" y1="1569" x2="515" y2="1664"/><ellipse class="tp" cx="505" cy="1569" rx="13" ry="6.5"/></g>
<g class="cy dk"><line class="bd" x1="581" y1="1582" x2="558" y2="1669"/><ellipse class="bd" cx="558" cy="1669" rx="13" ry="6.5"/><line class="sh" x1="587" y1="1582" x2="564" y2="1669"/><ellipse class="tp" cx="581" cy="1582" rx="13" ry="6.5"/></g>
<g class="cy aq"><line class="bd" x1="298" y1="1592" x2="333" y2="1745"/><ellipse class="bd" cx="333" cy="1745" rx="13" ry="6.5"/><line class="sh" x1="304" y1="1592" x2="339" y2="1745"/><ellipse class="tp" cx="298" cy="1592" rx="13" ry="6.5"/></g>
<g class="cy gr"><line class="bd" x1="375" y1="1598" x2="398" y2="1735"/><ellipse class="bd" cx="398" cy="1735" rx="13" ry="6.5"/><line class="sh" x1="381" y1="1598" x2="404" y2="1735"/><ellipse class="tp" cx="375" cy="1598" rx="13" ry="6.5"/></g>
<g class="cy gr"><line class="bd" x1="459" y1="1603" x2="482" y2="1725"/><ellipse class="bd" cx="482" cy="1725" rx="13" ry="6.5"/><line class="sh" x1="465" y1="1603" x2="488" y2="1725"/><ellipse class="tp" cx="459" cy="1603" rx="13" ry="6.5"/></g>
<g class="cy dk"><line class="bd" x1="543" y1="1610" x2="551" y2="1710"/><ellipse class="bd" cx="551" cy="1710" rx="13" ry="6.5"/><line class="sh" x1="549" y1="1610" x2="557" y2="1710"/><ellipse class="tp" cx="543" cy="1610" rx="13" ry="6.5"/></g>
<g class="cy md"><line class="bd" x1="401" y1="1643" x2="463" y2="1781"/><ellipse class="bd" cx="463" cy="1781" rx="13" ry="6.5"/><line class="sh" x1="407" y1="1643" x2="469" y2="1781"/><ellipse class="tp" cx="401" cy="1643" rx="13" ry="6.5"/></g>
<g class="cy md"><line class="bd" x1="490" y1="1649" x2="543" y2="1761"/><ellipse class="bd" cx="543" cy="1761" rx="13" ry="6.5"/><line class="sh" x1="496" y1="1649" x2="549" y2="1761"/><ellipse class="tp" cx="490" cy="1649" rx="13" ry="6.5"/></g>
<g class="cy aq"><line class="bd" x1="310" y1="1654" x2="386" y2="1791"/><ellipse class="bd" cx="386" cy="1791" rx="13" ry="6.5"/><line class="sh" x1="316" y1="1654" x2="392" y2="1791"/><ellipse class="tp" cx="310" cy="1654" rx="13" ry="6.5"/></g>
</g>
<g stroke="#2535e0" stroke-width="4.5" marker-end="url(#mB)">
<line x1="400" y1="1795" x2="324" y2="1672"/>
<line x1="480" y1="1786" x2="408" y2="1660"/>
<line x1="571" y1="1783" x2="491" y2="1652"/>
</g>
<g stroke="#ee1111" fill="none">
<line x1="270" y1="1575" x2="662" y2="1575" stroke-width="5" marker-end="url(#mR)"/>
<line x1="313" y1="1650" x2="613" y2="1475" stroke-width="5" marker-end="url(#mR)"/>
<path d="M548 1500 C552 1480 578 1478 590 1490" stroke-width="3.5" marker-end="url(#mRs)"/>
<path d="M590 1498 C600 1512 590 1525 572 1527" stroke-width="3.5" marker-end="url(#mRs)"/>
<path d="M596 1566 C600 1550 622 1548 630 1558" stroke-width="3.5" marker-end="url(#mRs)"/>
<path d="M628 1590 C630 1600 620 1606 606 1604" stroke-width="3.5" marker-end="url(#mRs)"/>
</g>
<ellipse cx="428" cy="1567" rx="13" ry="7" fill="#ff1a1a"/>
</g>
<use href="#cl" transform="matrix(-1 0 0 1 1328 0)"/>

<!-- Footer -->
<line x1="106" y1="2053" x2="223" y2="2053" stroke="#000" stroke-width="3"/>
<line x1="106" y1="2078" x2="223" y2="2078" stroke="#000" stroke-width="3"/>
<line x1="163" y1="2066" x2="223" y2="2066" stroke="#555" stroke-width="1.5"/>
<text class="r" x="106" y="2073" font-size="19" textLength="49" lengthAdjust="spacingAndGlyphs">15954</text>
<circle cx="312" cy="2058" r="6" fill="none" stroke="#222" stroke-width="1.5"/>
<text class="s" x="320" y="2065" font-size="15" fill="#222" textLength="50" lengthAdjust="spacingAndGlyphs">WILEY</text>
<g fill="#222"><rect x="375" y="2050" width="7" height="16"/><rect x="384" y="2048" width="7" height="18"/><rect x="393" y="2046" width="9" height="20"/></g>
<text x="306" y="2082" font-size="11" fill="#333" textLength="94" lengthAdjust="spacingAndGlyphs" style="font-family:'Liberation Sans',Arial,sans-serif">ONLINE LIBRARY</text>
<text class="r" x="487" y="2073" font-size="17" textLength="401" lengthAdjust="spacingAndGlyphs">© 2012 Wiley-VCH Verlag GmbH &amp; Co. KGaA, Weinheim</text>
<text class="r" x="972" y="2073" font-size="17" textLength="252" lengthAdjust="spacingAndGlyphs"><tspan font-style="italic">Chem. Eur. J.</tspan> <tspan font-weight="bold">2012</tspan>, <tspan font-style="italic">18</tspan>, 15954–15959</text>
</svg>
</body>
</html>
